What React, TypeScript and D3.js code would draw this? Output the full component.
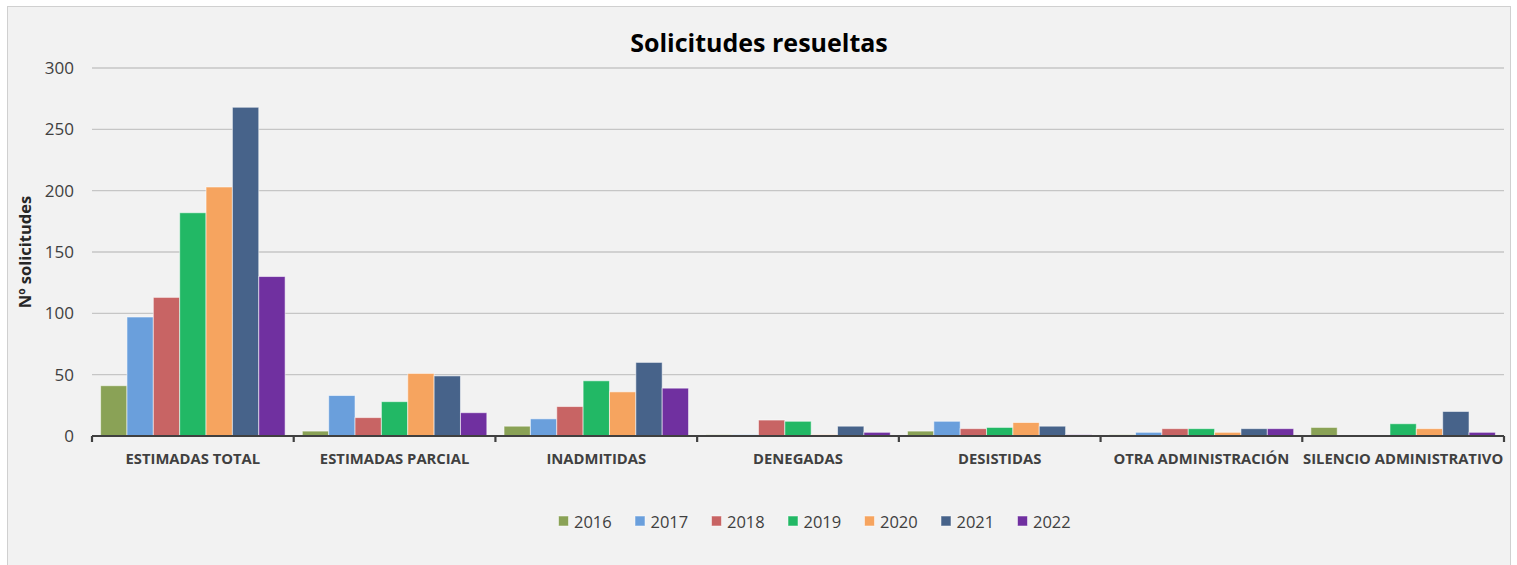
import React from "react";
import * as d3 from "d3";

const categories = [
  "ESTIMADAS TOTAL",
  "ESTIMADAS PARCIAL",
  "INADMITIDAS",
  "DENEGADAS",
  "DESISTIDAS",
  "OTRA ADMINISTRACIÓN",
  "SILENCIO ADMINISTRATIVO",
];
const years = ["2016", "2017", "2018", "2019", "2020", "2021", "2022"];
const colors = ["#8aa256", "#6a9fdc", "#c86464", "#22b865", "#f6a45f", "#47638a", "#7030a0"];
const v2016 = [41, 4, 8, 1, 4, 1, 7];
const v2017 = [97, 33, 14, 1, 12, 3, 0];
const v2018 = [113, 15, 24, 13, 6, 6, 0];
const v2019 = [182, 28, 45, 12, 7, 6, 10];
const v2020 = [203, 51, 36, 1, 11, 3, 6];
const v2021 = [268, 49, 60, 8, 8, 6, 20];
const v2022 = [130, 19, 39, 3, 1, 6, 3];
const series = [v2016, v2017, v2018, v2019, v2020, v2021, v2022];
const yTicks = [0, 50, 100, 150, 200, 250, 300];

export default function App() {
  const W = 1517, H = 565;
  const left = 92, right = 1504, top = 68, bottom = 436;
  const x0 = d3.scaleBand<string>().domain(categories).range([left, right]).paddingInner(0).paddingOuter(0);
  const bw = x0.bandwidth();
  const x1 = d3.scaleBand<string>().domain(years).range([8.6, bw - 8.6]).padding(0);
  const y = d3.scaleLinear().domain([0, 300]).range([bottom, top]);
  const font = "'Open Sans', sans-serif";
  const legendX0 = 558.5;
  const legendStep = 76.5;
  return (
    <svg width={W} height={H} style={{ position: "absolute", left: 0, top: 0 }} fontFamily={font}>
      <rect x={0} y={0} width={W} height={H} fill="#ffffff" />
      <rect x={7.5} y={6.5} width={1503} height={570} fill="#f2f2f2" stroke="#d0d0d0" strokeWidth={1} />
      <text x={759} y={52} textAnchor="middle" fontSize={25} fontWeight="bold" fill="#000">Solicitudes resueltas</text>
      {yTicks.map((t) => (
        <g key={t}>
          {t !== 0 && (
            <line x1={left} x2={right} y1={y(t)} y2={y(t)} stroke="#c6c6c6" strokeWidth={1.3} />
          )}
          <text x={74} y={y(t) + 6} textAnchor="end" fontSize={17} fill="#404040">{t}</text>
        </g>
      ))}
      <text transform={`translate(31,${252}) rotate(-90)`} textAnchor="middle" fontSize={16.5} fontWeight="bold" fill="#262626">Nº solicitudes</text>
      {categories.map((c, ci) => (
        <g key={c} transform={`translate(${x0(c)},0)`}>
          {series.map((s, si) => (
            <rect
              key={si}
              x={x1(years[si])}
              y={y(s[ci])}
              width={x1.bandwidth()}
              height={bottom - y(s[ci])}
              fill={colors[si]}
              stroke="#ffffff"
              strokeOpacity={0.55}
              strokeWidth={1}
            />
          ))}
          <text x={bw / 2} y={464} textAnchor="middle" fontSize={14.8} fontWeight="bold" fill="#404040">{c}</text>
        </g>
      ))}
      <line x1={left} x2={right} y1={bottom} y2={bottom} stroke="#404040" strokeWidth={2.2} />
      {[...categories.map((c) => x0(c) as number), right].map((tx, i) => (
        <line key={i} x1={tx} x2={tx} y1={bottom} y2={bottom + 6} stroke="#404040" strokeWidth={2.2} />
      ))}
      {years.map((yr, i) => (
        <g key={yr} transform={`translate(${legendX0 + i * legendStep},0)`}>
          <rect x={0} y={516} width={10} height={10} fill={colors[i]} stroke="#ffffff" strokeOpacity={0.5} />
          <text x={15.5} y={527.5} fontSize={16.5} fill="#404040">{yr}</text>
        </g>
      ))}
    </svg>
  );
}
